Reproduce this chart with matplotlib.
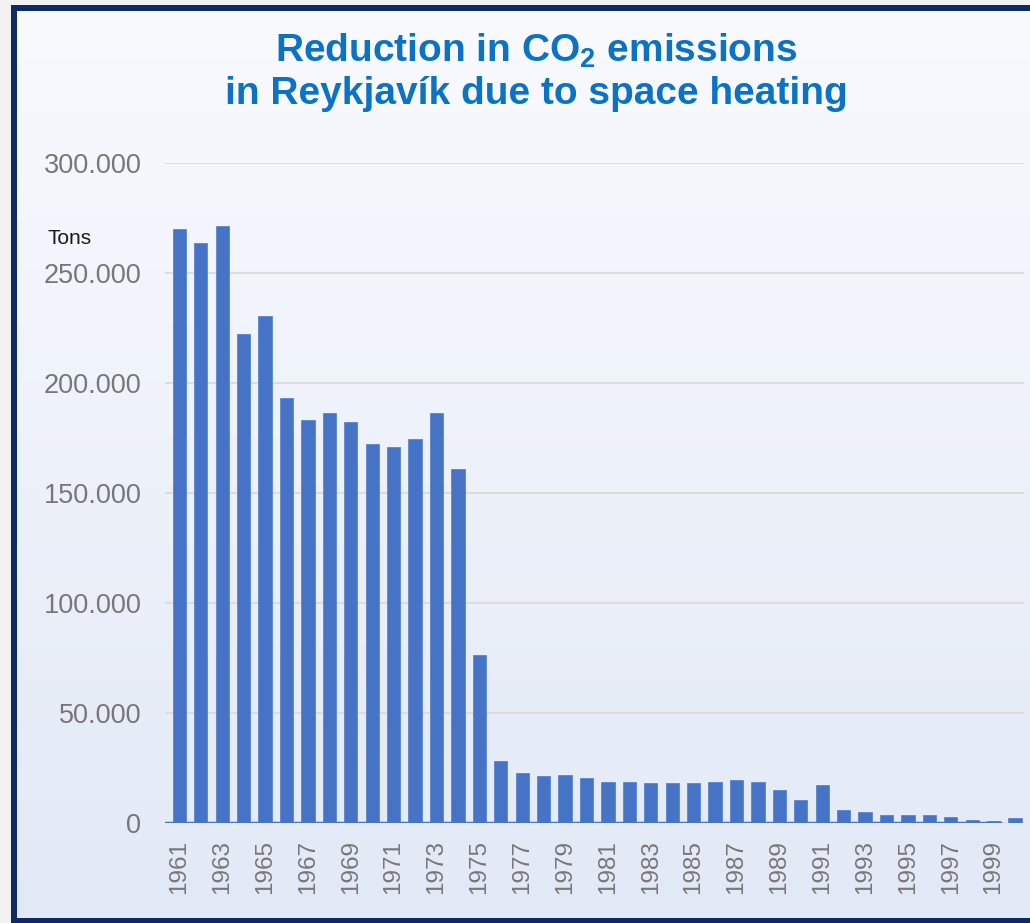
import numpy as np
import matplotlib.pyplot as plt
from matplotlib.ticker import FuncFormatter
from matplotlib.patches import Rectangle

plt.rcParams["font.family"] = ["Liberation Sans", "DejaVu Sans"]
plt.rcParams["mathtext.fontset"] = "custom"
plt.rcParams["mathtext.rm"] = "Liberation Sans"
plt.rcParams["mathtext.bf"] = "Liberation Sans:bold"

years = list(range(1961, 2001))
tons = [270000, 263500, 271400, 222300, 230600, 193000, 183000, 186200, 182300, 172300,
        170900, 174500, 186200, 160800, 76400, 28200, 22700, 21200, 22000, 20500,
        18800, 18800, 18000, 18000, 18000, 18800, 19700, 18800, 15000, 10300,
        17300, 5800, 5000, 3500, 3500, 3500, 2700, 1500, 1000, 2200]
yticks = [0, 50000, 100000, 150000, 200000, 250000, 300000]
xlabels = years[::2]

bar_color = "#4673c6"
title_color = "#0b72c4"

fig = plt.figure(figsize=(10.30, 9.23), dpi=100)

# background gradient
bg = fig.add_axes([0, 0, 1, 1], zorder=-10)
grad = np.linspace(0, 1, 256).reshape(-1, 1)
top_c = np.array([249, 250, 254]) / 255
bot_c = np.array([226, 233, 246]) / 255
img = top_c + (bot_c - top_c) * grad[..., None]
bg.imshow(img, aspect="auto", extent=[0, 1, 0, 1])
bg.set_xlim(0, 1)
bg.set_ylim(0, 1)
bg.axis("off")

# frame
navy = "#0d2a66"
fig.patches.append(Rectangle((0, 0), 11 / 1030, 1, transform=fig.transFigure,
                             facecolor="#f2f2f2", edgecolor="none", zorder=-5))
fig.patches.append(Rectangle((11 / 1030, 0), 6 / 1030, 1 - 5 / 923, transform=fig.transFigure,
                             facecolor=navy, edgecolor="none", zorder=5))
fig.patches.append(Rectangle((11 / 1030, 1 - 11 / 923), 1, 6 / 923, transform=fig.transFigure,
                             facecolor=navy, edgecolor="none", zorder=5))
fig.patches.append(Rectangle((0, 1 - 5 / 923), 1, 5 / 923, transform=fig.transFigure,
                             facecolor="#f2f2f2", edgecolor="none", zorder=5))
fig.patches.append(Rectangle((11 / 1030, 0), 1, 5 / 923, transform=fig.transFigure,
                             facecolor=navy, edgecolor="none", zorder=5))

ax = fig.add_axes([165 / 1030, 1 - 823 / 923, 859 / 1030, 660 / 923])
ax.patch.set_alpha(0)

ax.bar(years, tons, width=0.62, color=bar_color, edgecolor="#5a85d0", linewidth=0.6, zorder=3)
ax.set_xlim(1960.33, 2000.42)
ax.set_ylim(0, 300000)

ax.set_yticks(yticks)
ax.yaxis.set_major_formatter(FuncFormatter(lambda v, p: f"{int(v):,}".replace(",", ".")))
ax.set_xticks(xlabels)
ax.set_xticklabels([str(y) for y in xlabels], rotation=90)
ax.tick_params(axis="y", length=0, pad=17, labelsize=19.5, labelcolor="#777777")
ax.tick_params(axis="x", length=0, pad=12, labelsize=17.5, labelcolor="#777777")
ax.grid(axis="y", color="#d9d9d9", linewidth=1.2, zorder=0)
for s in ax.spines.values():
    s.set_visible(False)

# blue base line under the bars
x0, x1 = ax.get_xlim()
ax.axhline(0, xmin=0, xmax=(1999.31 - x0) / (x1 - x0), color=bar_color, linewidth=2.5, zorder=4)

fig.text(536 / 1030, 1 - 62 / 923, r"Reduction in CO$_\mathbf{2}$ emissions", ha="center", va="baseline",
         fontsize=28, fontweight="bold", color=title_color)
fig.text(536 / 1030, 1 - 104 / 923, "in Reykjavík due to space heating", ha="center", va="baseline",
         fontsize=28, fontweight="bold", color=title_color)
fig.text(47 / 1030, 1 - 238 / 923, "Tons", ha="left", va="center", fontsize=15, color="#1a1a1a")

fig.savefig("out.png", dpi=100)
